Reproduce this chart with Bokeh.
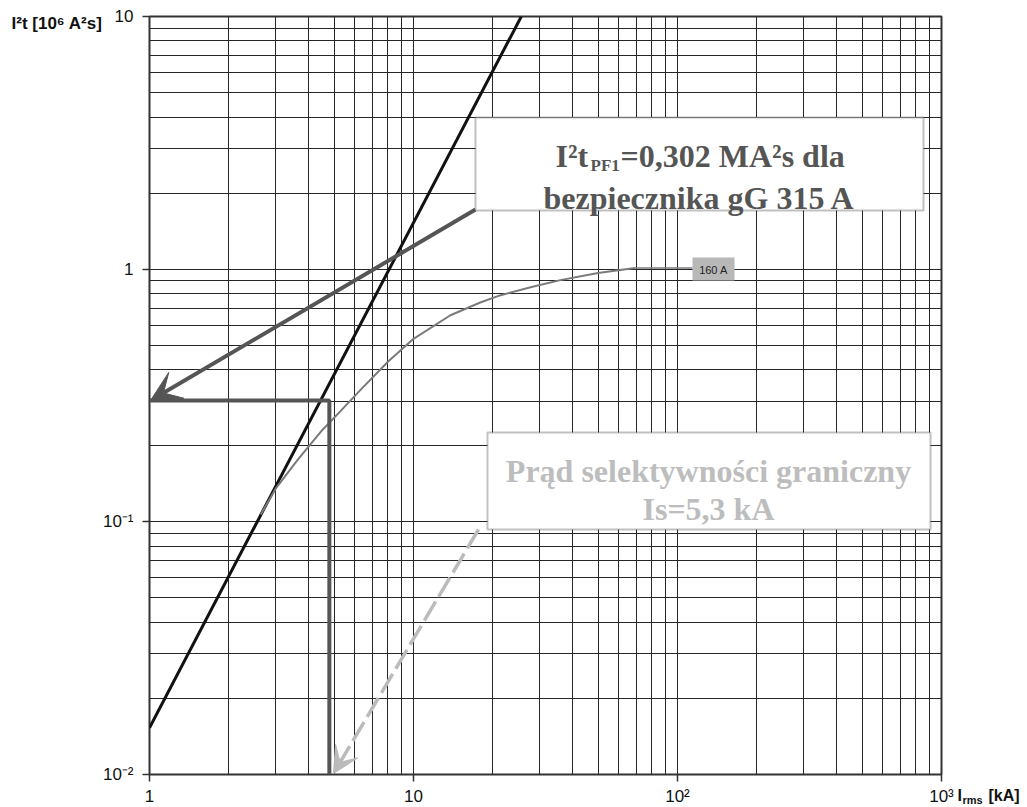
import math
from bokeh.plotting import figure
from bokeh.models import FixedTicker, Label, Arrow, VeeHead, BoxAnnotation
from bokeh.embed import file_html
from bokeh.resources import INLINE

# ---------------- data ----------------
x_major = [1, 10, 100, 1000]
x_tick_labels = ["1", "10", "10²", "10³"]
y_major = [0.01, 0.1, 1, 10]
y_tick_labels = ["10⁻²", "10⁻¹", "1", "10"]
mantissas = [2, 3, 4, 5, 6, 7, 8, 9]

# straight I²t line (I²t ~ I²)
line_x = [1.0, 25.6]
line_y = [0.0153, 10.0]

# 160 A fuse let-through curve
fuse160_x = [2.64, 3.0, 3.64, 4.5, 5.3, 6.3, 8.0, 10.0, 13.8, 18.0, 21.4, 28.0, 36.0, 50.0, 69.0]
fuse160_y = [0.107, 0.135, 0.176, 0.23, 0.275, 0.333, 0.43, 0.53, 0.657, 0.74, 0.789, 0.85, 0.905, 0.965, 1.01]
fuse160_label = "160 A"

i2t_pf1 = 0.302      # MA²s
i_cross = 4.8        # kA, vertical guide
is_text = "5,3"      # kA
y_min = 0.01

# ---------------- layout helpers (page pixel -> data) ----------------
FL, FT, FW, FH = 149, 16, 792, 758
def xd(px):
    return 10 ** (3 * (px - FL) / FW)
def yd(py):
    return 10 ** (1 - 3 * (py - FT) / FH)

p = figure(frame_width=FW, frame_height=FH,
           x_axis_type="log", y_axis_type="log",
           x_range=(1, 1000), y_range=(0.01, 10),
           output_backend="svg", toolbar_location=None,
           min_border_left=FL, min_border_right=86,
           min_border_top=FT, min_border_bottom=30)
p.background_fill_color = "white"
p.border_fill_color = "white"
p.outline_line_color = "#333333"
p.outline_line_width = 2

x_minor = [m * d for d in x_major[:-1] for m in mantissas]
y_minor = [m * d for d in y_major[:-1] for m in mantissas]
p.xaxis.ticker = FixedTicker(ticks=x_major, minor_ticks=x_minor)
p.yaxis.ticker = FixedTicker(ticks=y_major, minor_ticks=y_minor)
p.xaxis.major_label_overrides = {float(v): t for v, t in zip(x_major, x_tick_labels)}
p.yaxis.major_label_overrides = {float(v): t for v, t in zip(y_major, y_tick_labels)}

for ax in (p.xaxis[0], p.yaxis[0]):
    ax.axis_line_color = None
    ax.major_tick_line_color = "#333333"
    ax.major_tick_line_width = 1.5
    ax.major_tick_in = 0
    ax.minor_tick_line_color = None
    ax.major_label_text_font = "Liberation Sans"
    ax.major_label_text_font_size = "17px"
    ax.major_label_text_color = "#111111"
p.xaxis.major_tick_out = 7
p.xaxis.major_label_standoff = 5
p.yaxis.major_tick_out = 7
p.yaxis.major_label_standoff = 9

for g in (p.xgrid[0], p.ygrid[0]):
    g.grid_line_color = "#262626"
    g.grid_line_width = 1
    g.minor_grid_line_color = "#262626"
    g.minor_grid_line_width = 1

# ---------------- marks ----------------
p.line(line_x, line_y, line_color="#111111", line_width=3)
p.line(fuse160_x, fuse160_y, line_color="#7a7a7a", line_width=2)
p.line([fuse160_x[-1], xd(692)], [fuse160_y[-1], fuse160_y[-1]], line_color="#7a7a7a", line_width=1.5)

# guide lines for I²t_PF1 and the current
p.line([1.0, i_cross, i_cross], [i2t_pf1, i2t_pf1, y_min], line_color="#555555", line_width=4)

# arrows
p.add_layout(Arrow(end=VeeHead(size=30, fill_color="#555555", line_color="#555555"),
                   x_start=xd(475), y_start=yd(209), x_end=xd(150), y_end=i2t_pf1,
                   line_color="#555555", line_width=4))
p.add_layout(Arrow(end=VeeHead(size=26, fill_color="#bbbbbb", line_color="#bbbbbb"),
                   x_start=xd(478), y_start=yd(529), x_end=xd(333), y_end=yd(773),
                   line_color="#bbbbbb", line_width=3.5, line_dash="22 6"))

# boxes
p.add_layout(BoxAnnotation(left=xd(475), right=xd(923), top=yd(117), bottom=yd(210),
                           fill_color="white", fill_alpha=1, line_color="#333333", line_width=2))
p.add_layout(BoxAnnotation(left=xd(487), right=xd(930), top=yd(432), bottom=yd(529),
                           fill_color="white", fill_alpha=1, line_color="#333333", line_width=2))
p.add_layout(BoxAnnotation(left=xd(692), right=xd(734), top=yd(257), bottom=yd(280),
                           fill_color="#b8b8b8", fill_alpha=1, line_color=None))

serif = "Liberation Serif"
dark = "#555555"
light = "#bdbdbd"
pf1_txt = "=" + f"{i2t_pf1:.3f}".replace(".", ",") + " MA²s dla"
p.add_layout(Label(x=xd(555), y=yd(155), text="I²t", text_font=serif, text_font_style="bold",
                   text_font_size="32px", text_color=dark, text_baseline="alphabetic"))
p.add_layout(Label(x=xd(590), y=yd(165), text="PF1", text_font=serif, text_font_style="bold",
                   text_font_size="17px", text_color=dark, text_baseline="alphabetic"))
p.add_layout(Label(x=xd(620), y=yd(155), text=pf1_txt, text_font=serif, text_font_style="bold",
                   text_font_size="32px", text_color=dark, text_baseline="alphabetic"))
p.add_layout(Label(x=xd(699), y=yd(197), text="bezpiecznika gG 315 A", text_font=serif,
                   text_font_style="bold", text_font_size="32px", text_color=dark,
                   text_align="center", text_baseline="alphabetic"))

p.add_layout(Label(x=xd(708), y=yd(470), text="Prąd selektywności graniczny", text_font=serif,
                   text_font_style="bold", text_font_size="32px", text_color=light,
                   text_align="center", text_baseline="alphabetic"))
p.add_layout(Label(x=xd(708), y=yd(508), text="Is=" + is_text + " kA", text_font=serif,
                   text_font_style="bold", text_font_size="32px", text_color=light,
                   text_align="center", text_baseline="alphabetic"))

p.add_layout(Label(x=xd(713), y=yd(269), text=fuse160_label, text_font="Liberation Sans",
                   text_font_size="11px", text_color="#222222",
                   text_align="center", text_baseline="middle"))

# axis titles (placed in side panels so they are not clipped by the frame)
p.add_layout(Label(x=xd(11), y=yd(23), text="I²t [10⁶ A²s]", text_font="Liberation Sans",
                   text_font_style="bold", text_font_size="17px", text_color="#111111",
                   text_baseline="middle"), "left")
p.add_layout(Label(x=xd(957), y=yd(795), text="I", text_font="Liberation Sans",
                   text_font_style="bold", text_font_size="16px", text_color="#111111",
                   text_baseline="middle"), "right")
p.add_layout(Label(x=xd(962), y=yd(799), text="rms", text_font="Liberation Sans",
                   text_font_style="bold", text_font_size="11px", text_color="#111111",
                   text_baseline="middle"), "right")
p.add_layout(Label(x=xd(988), y=yd(795), text="[kA]", text_font="Liberation Sans",
                   text_font_style="bold", text_font_size="16px", text_color="#111111",
                   text_baseline="middle"), "right")

open("out.html", "w").write(file_html(p, INLINE))
